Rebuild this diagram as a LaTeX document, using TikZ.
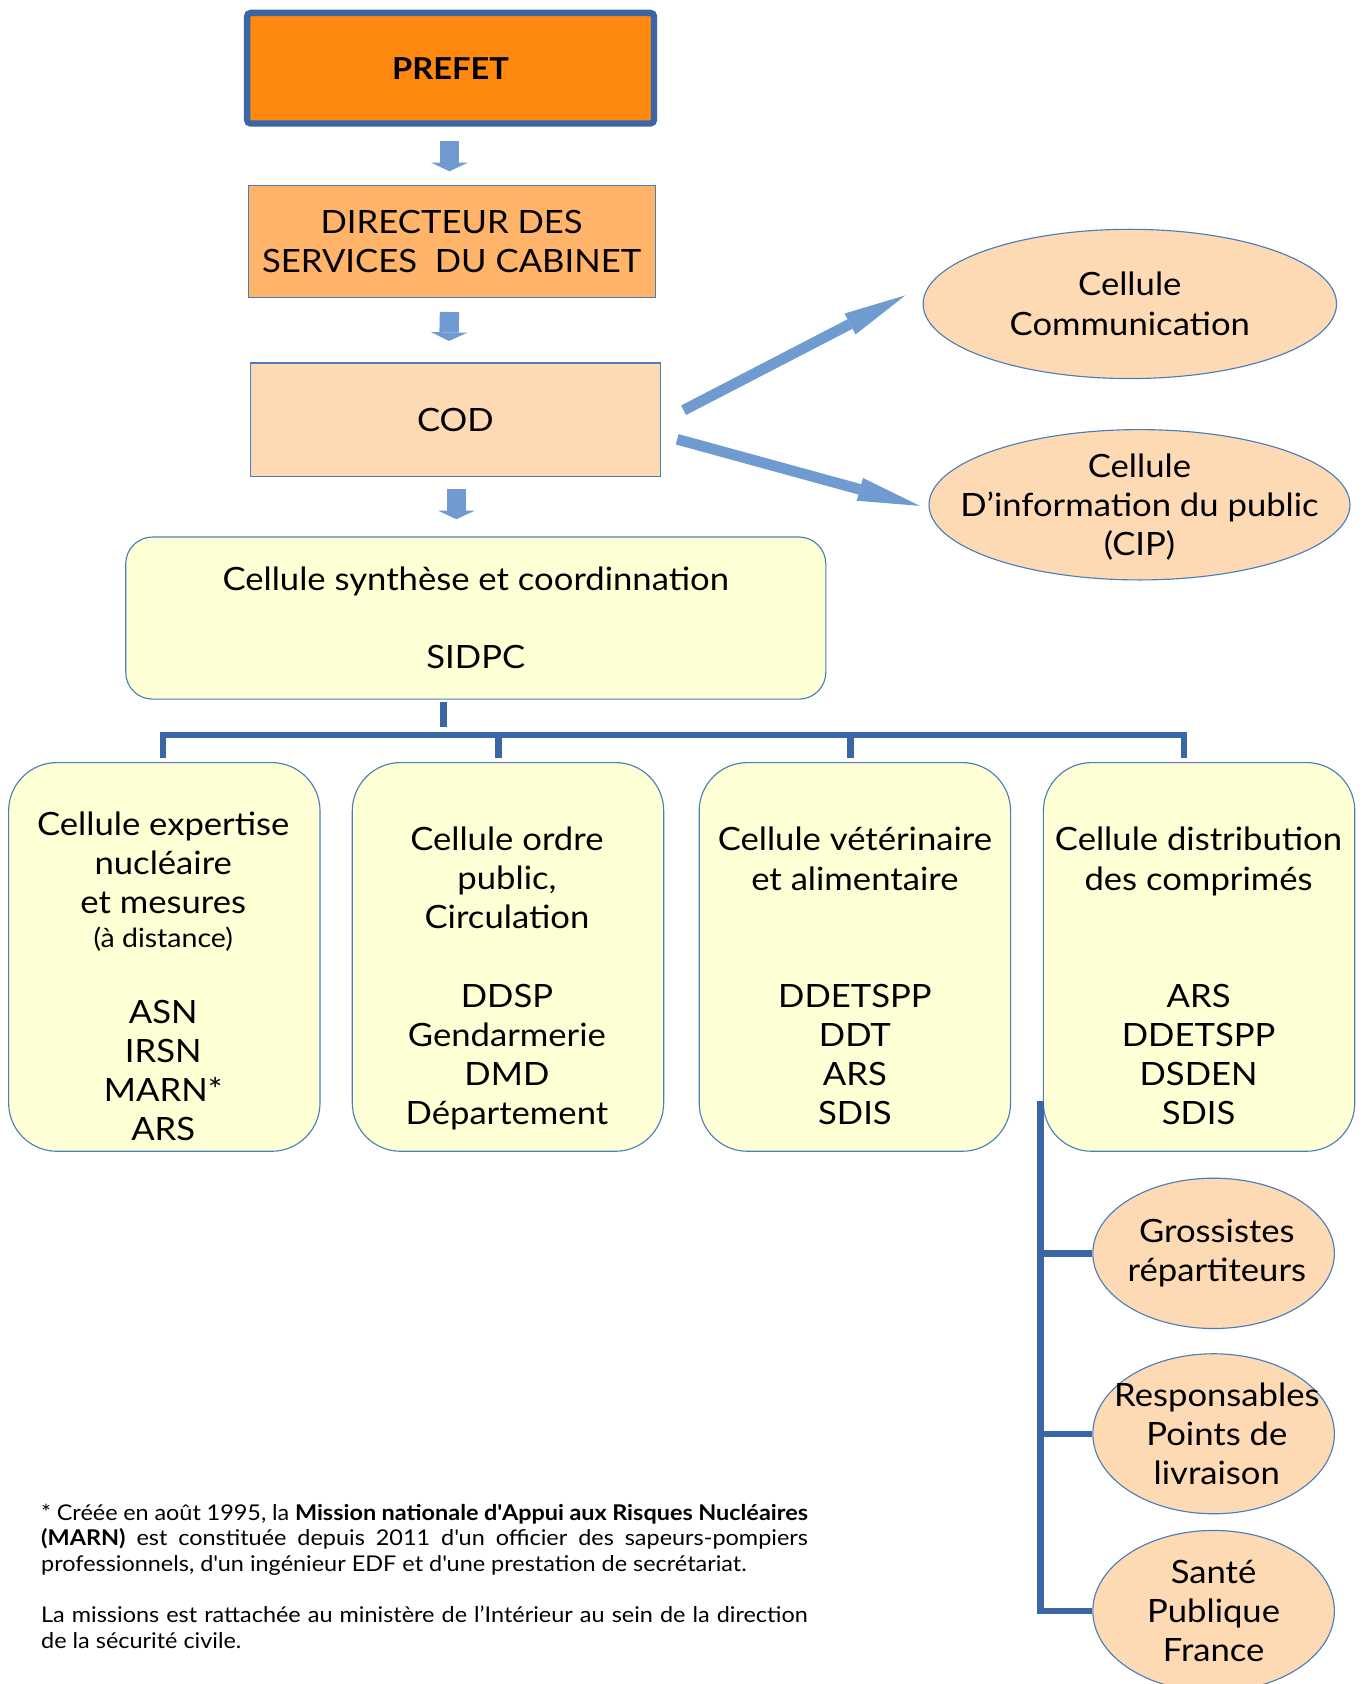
\documentclass[tikz,border=0pt]{standalone}
\usepackage{fontspec}
\setmainfont{Lato}[FakeStretch=1.08]
\usetikzlibrary{shapes.geometric,arrows.meta,calc}

\definecolor{prefetorange}{HTML}{FF8811}
\definecolor{dirorange}{HTML}{FFB46A}
\definecolor{peach}{HTML}{FDDAB4}
\definecolor{cellyellow}{HTML}{FFFFD5}
\definecolor{edgeblue}{HTML}{4A7EBB}
\definecolor{linkblue}{HTML}{3A66A6}
\definecolor{arrowblue}{HTML}{6F9BD1}

\newcommand{\boxfont}{\fontsize{17}{20.8}\selectfont}
\newcommand{\smallboxfont}{\fontsize{14}{17}\selectfont}
\newcommand{\notefont}{\fontsize{11.5}{13.6}\selectfont}

\begin{document}
\begin{tikzpicture}[x=0.02cm, y=-0.02cm,
  rectbox/.style={draw=edgeblue, line width=0.6pt, align=center, font=\boxfont, inner sep=0pt},
  cellbox/.style={rectbox, fill=cellyellow, rounded corners=0.9cm, minimum width=5.8cm, minimum height=7.24cm},
  celltext/.style={align=center, font=\boxfont, inner sep=0pt},
  bubble/.style={ellipse, draw=edgeblue, line width=0.6pt, fill=peach, inner sep=0pt},
  downarrow/.style={draw=arrowblue, line width=0.36cm, -{Triangle[width=0.68cm, length=0.16cm, line width=0pt]}},
  sidearrow/.style={draw=arrowblue, line width=0.2cm, -{Triangle[width=0.44cm, length=1.16cm, line width=0pt]}},
  treeline/.style={draw=linkblue, line width=0.12cm}]
\useasboundingbox (0,0) rectangle (1271,1568);

\node[rectbox, fill=prefetorange, draw=linkblue, line width=0.12cm, rounded corners=2pt,
  minimum width=7.58cm, minimum height=2.06cm, font=\fontsize{16}{20}\selectfont\bfseries] (prefet) at (419.5,63.5) {PREFET};
\node[rectbox, fill=dirorange, minimum width=7.58cm, minimum height=2.08cm] (dir) at (420.5,225)
  {DIRECTEUR DES\\SERVICES\ \ DU CABINET};
\node[rectbox, fill=peach, minimum width=7.64cm, minimum height=2.12cm] (cod) at (424,391) {COD};
\node[rectbox, fill=cellyellow, rounded corners=0.5cm, minimum width=13.04cm, minimum height=3.02cm] (synth)
  at (443,575.5) {Cellule synthèse et coordinnation\\[0.73cm]SIDPC};

\node[bubble, minimum width=7.7cm, minimum height=2.78cm] (comm) at (1052,283) {};
\node[celltext] (comm-t) at (comm) {Cellule\\Communication};
\node[bubble, minimum width=7.84cm, minimum height=2.8cm] (cip) at (1061,470) {};
\node[celltext] (cip-t) at ($(cip)+(0,2)$) {Cellule\\D’information du public\\(CIP)};

\draw[downarrow] ($(prefet.south)+(-1,13)$) -- ($(dir.north)+(-2,-13)$);
\draw[downarrow] ($(dir.south)+(-2,13)$) -- ($(cod.north)+(-6,-20)$);
\draw[downarrow] ($(cod.south)+(1,11)$) -- ($(synth.north)+(-18,-16)$);
\draw[sidearrow] ($(cod.east)+(21,-9)$) -- ($(comm.west)+(-16,-8)$);
\draw[sidearrow] ($(cod.east)+(15,18)$) -- ($(cip.west)+(-8,1)$);

\node[cellbox] (b1) at (153,891) {};
\node[cellbox] (b2) at (473,891) {};
\node[cellbox] (b3) at (796,891) {};
\node[cellbox] (b4) at (1116.5,891) {};
\node[celltext] (b1-t) at (152,909) {Cellule expertise\\nucléaire\\et mesures\\[-0.09cm]{\smallboxfont (à distance)}\\[0.67cm]ASN\\IRSN\\MARN*\\ARS};
\node[celltext] (b2-t) at (472,911) {Cellule ordre\\public,\\Circulation\\[0.73cm]DDSP\\Gendarmerie\\DMD\\Département};
\node[celltext] (b3-t) at (796,909) {Cellule vétérinaire\\et alimentaire\\[1.45cm]DDETSPP\\DDT\\ARS\\SDIS};
\node[celltext] (b4-t) at (1116,909) {Cellule distribution\\des comprimés\\[1.45cm]ARS\\DDETSPP\\DSDEN\\SDIS};

\draw[treeline] ($(synth.south)+(-30,2)$) -- ($(synth.south)+(-30,25)$);
\draw[treeline] ($(b1.north)+(-1,-4)$) -- ++(0,-21) -| ($(b4.north)+(-14,-4)$);
\draw[treeline] ($(b2.north)+(-9,-4)$) -- ++(0,-21);
\draw[treeline] ($(b3.north)+(-4,-4)$) -- ++(0,-21);

\node[bubble, minimum width=4.5cm, minimum height=2.8cm] (gros) at (1130,1167) {};
\node[celltext] (gros-t) at ($(gros)+(3,0)$) {Grossistes\\répartiteurs};
\node[bubble, minimum width=4.5cm, minimum height=2.98cm] (resp) at (1130,1335) {};
\node[celltext] (resp-t) at ($(resp)+(3,0)$) {Responsables\\Points de\\livraison};
\node[bubble, minimum width=4.5cm, minimum height=3cm] (spf) at (1130,1500) {};
\node[celltext] (spf-t) at (spf) {Santé\\Publique\\France};

\coordinate (trunk) at ($(b4.south west)+(-2,-47)$);
\draw[treeline] (trunk) |- (spf.west);
\draw[treeline] (trunk |- gros.west) -- (gros.west);
\draw[treeline] (trunk |- resp.west) -- (resp.west);

\node[anchor=north west, inner sep=0pt, text width=14.28cm, align=justify, font=\notefont] (note) at (38,1400)
  {* Créée en août 1995, la \textbf{Mission nationale d\textquotesingle Appui aux Risques Nucléaires}\linebreak
  \textbf{(MARN)} est constituée depuis 2011 d\textquotesingle un officier des sapeurs-pompiers\linebreak
  professionnels, d\textquotesingle un ingénieur EDF et d\textquotesingle une prestation de secrétariat.\\[13.6pt]
  La missions est rattachée au ministère de l’Intérieur au sein de la direction\linebreak
  de la sécurité civile.};
\end{tikzpicture}
\end{document}
